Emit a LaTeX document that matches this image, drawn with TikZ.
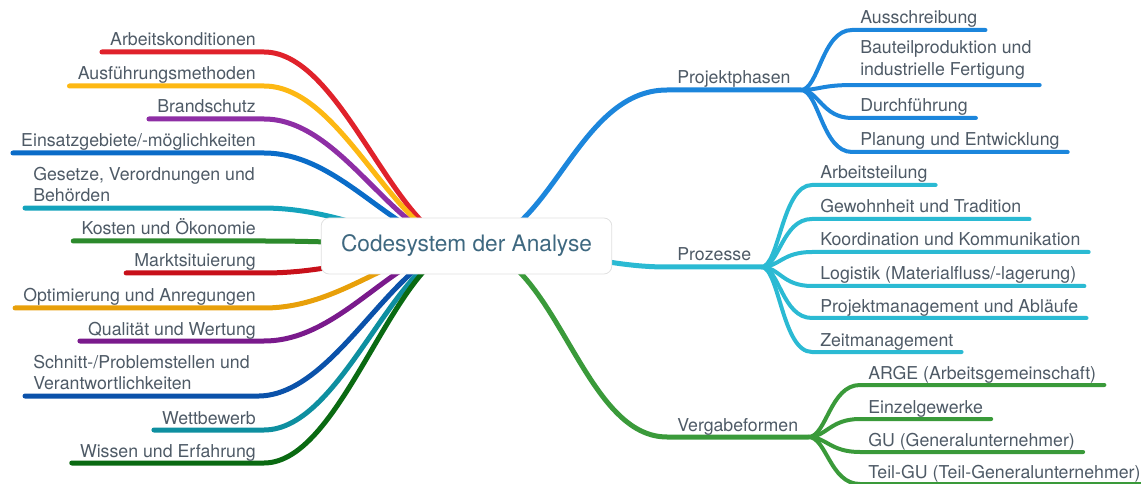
\documentclass[tikz,border=0pt]{standalone}
\usepackage{fontspec}
\setmainfont{TeX Gyre Heros}
\usepackage{xcolor}
\usetikzlibrary{positioning, calc, backgrounds}

\definecolor{txtgray}{RGB}{78,90,102}
\definecolor{roottxt}{RGB}{62,104,128}
\definecolor{cRed}{RGB}{224,34,43}
\definecolor{cYellow}{RGB}{253,184,19}
\definecolor{cPurple}{RGB}{142,46,165}
\definecolor{cBlue}{RGB}{10,108,200}
\definecolor{cTeal}{RGB}{20,163,188}
\definecolor{cGreen}{RGB}{44,138,44}
\definecolor{cRedB}{RGB}{200,16,26}
\definecolor{cOrange}{RGB}{232,160,10}
\definecolor{cPurpleB}{RGB}{122,26,140}
\definecolor{cBlueB}{RGB}{11,82,170}
\definecolor{cTealB}{RGB}{14,143,160}
\definecolor{cGreenB}{RGB}{10,106,18}
\definecolor{cPhase}{RGB}{28,134,220}
\definecolor{cProc}{RGB}{43,186,211}
\definecolor{cAward}{RGB}{58,154,58}

\newcommand{\lblfont}{\fontsize{13.3}{16.1}\selectfont}
\newcommand{\rootfont}{\fontsize{17}{20}\selectfont}

\begin{document}
\begin{tikzpicture}[
  x=0.75pt, y=-0.75pt,
  every node/.style={font=\lblfont, text=txtgray},
  lbl/.style={inner xsep=6pt, inner ysep=0pt, text depth=4.3pt},
  twoline/.style={align=left, inner xsep=6pt, inner ysep=0pt},
  rootbox/.style={draw=black!12, line width=0.6pt, fill=white, rounded corners=6pt,
    minimum width=218pt, minimum height=42pt, font=\rootfont, text=roottxt},
  branch/.style={line width=3.75pt, line cap=round},
  twig/.style={line width=3pt, line cap=round}
]
\useasboundingbox (0,0) rectangle (1141,484);

% ---------- Root ----------
\node[rootbox] (root) at (466.5,246) {Codesystem der Analyse};

% ---------- Left labels ----------
\node[lbl, anchor=south east] (arbeit) at (264,52) {Arbeitskonditionen};
\node[lbl, anchor=south east] (ausf) at (264,86) {Ausführungsmethoden};
\node[lbl, anchor=south east] (brand) at (264,119) {Brandschutz};
\node[lbl, anchor=south east] (einsatz) at (264,153) {Einsatzgebiete/-möglichkeiten};
\node[twoline, anchor=south west] (gesetze) at (25,202.3) {Gesetze, Verordnungen und\\Behörden};
\node[lbl, anchor=south east] (kosten) at (264,241) {Kosten und Ökonomie};
\node[lbl, anchor=south east] (markt) at (264,273) {Marktsituierung};
\node[lbl, anchor=south east] (optim) at (264,308) {Optimierung und Anregungen};
\node[lbl, anchor=south east] (quali) at (264,341) {Qualität und Wertung};
\node[twoline, anchor=south west] (schnitt) at (25,390.3) {Schnitt-/Problemstellen und\\Verantwortlichkeiten};
\node[lbl, anchor=south east] (wettb) at (264,430) {Wettbewerb};
\node[lbl, anchor=south east] (wissen) at (264,463) {Wissen und Erfahrung};

% ---------- Right: main branches ----------
\node[lbl, anchor=south west, inner xsep=7.5pt] (phasen) at (667,90) {Projektphasen};
\node[lbl, anchor=south west, inner xsep=7.5pt] (prozesse) at (667,267) {Prozesse};
\node[lbl, anchor=south west, inner xsep=7.5pt] (vergabe) at (667,437) {Vergabeformen};

% Projektphasen
\node[lbl, anchor=south west] (aus) at (852,30) {Ausschreibung};
\node[twoline, anchor=south west] (bau) at (852,79.3) {Bauteilproduktion und\\industrielle Fertigung};
\node[lbl, anchor=south west] (durch) at (852,118) {Durchführung};
\node[lbl, anchor=south west] (plan) at (852,152) {Planung und Entwicklung};

% Prozesse
\node[lbl, anchor=south west] (teil) at (812,185) {Arbeitsteilung};
\node[lbl, anchor=south west] (gewohn) at (812,219) {Gewohnheit und Tradition};
\node[lbl, anchor=south west] (koord) at (812,252) {Koordination und Kommunikation};
\node[lbl, anchor=south west] (logist) at (812,286) {Logistik (Materialfluss/-lagerung)};
\node[lbl, anchor=south west] (projm) at (812,318) {Projektmanagement und Abläufe};
\node[lbl, anchor=south west] (zeit) at (812,352) {Zeitmanagement};

% Vergabeformen
\node[lbl, anchor=south west] (arge) at (860,385) {ARGE (Arbeitsgemeinschaft)};
\node[lbl, anchor=south west] (einzel) at (860,419) {Einzelgewerke};
\node[lbl, anchor=south west] (gu) at (860,452) {GU (Generalunternehmer)};
\node[lbl, anchor=south west] (teilgu) at (860,484) {Teil-GU (Teil-Generalunternehmer)};

% ---------- Lines (behind) ----------
\begin{scope}[on background layer]
% left side
\draw[branch, cRed] (arbeit.south west) -- (arbeit.south east) .. controls +(80,0) and +(-70,0) .. (root.center);
\draw[branch, cYellow] (ausf.south west) -- (ausf.south east) .. controls +(80,0) and +(-70,0) .. (root.center);
\draw[branch, cPurple] (brand.south west) -- (brand.south east) .. controls +(80,0) and +(-70,0) .. (root.center);
\draw[branch, cBlue] (einsatz.south west) -- (einsatz.south east) .. controls +(80,0) and +(-70,0) .. (root.center);
\draw[branch, cTeal] ([yshift=-4.3pt]gesetze.south west) -- ([yshift=-4.3pt]gesetze.south east) .. controls +(80,0) and +(-70,0) .. (root.center);
\draw[branch, cGreen] (kosten.south west) -- (kosten.south east) .. controls +(80,0) and +(-70,0) .. (root.center);
\draw[branch, cRedB] (markt.south west) -- (markt.south east) .. controls +(80,0) and +(-70,0) .. (root.center);
\draw[branch, cOrange] (optim.south west) -- (optim.south east) .. controls +(80,0) and +(-70,0) .. (root.center);
\draw[branch, cPurpleB] (quali.south west) -- (quali.south east) .. controls +(80,0) and +(-70,0) .. (root.center);
\draw[branch, cBlueB] ([yshift=-4.3pt]schnitt.south west) -- ([yshift=-4.3pt]schnitt.south east) .. controls +(80,0) and +(-70,0) .. (root.center);
\draw[branch, cTealB] (wettb.south west) -- (wettb.south east) .. controls +(80,0) and +(-70,0) .. (root.center);
\draw[branch, cGreenB] (wissen.south west) -- (wissen.south east) .. controls +(80,0) and +(-70,0) .. (root.center);

% right side
\draw[branch, cPhase] (root.center) .. controls +(84,0) and +(-92,0) .. (phasen.south west) -- (phasen.south east);
\draw[branch, cProc] (root.center) .. controls +(94,0) and +(-67,0) .. (prozesse.south west) -- (prozesse.south east);
\draw[branch, cAward] (root.center) .. controls +(89,0) and +(-87,0) .. (vergabe.south west) -- (vergabe.south east);

\draw[twig, cPhase] (phasen.south east) .. controls +(18,0) and +(-30,0) .. (aus.south west) -- (aus.south east);
\draw[twig, cPhase] (phasen.south east) .. controls +(18,0) and +(-30,0) .. ([yshift=-4.3pt]bau.south west) -- ([yshift=-4.3pt]bau.south east);
\draw[twig, cPhase] (phasen.south east) .. controls +(18,0) and +(-30,0) .. (durch.south west) -- (durch.south east);
\draw[twig, cPhase] (phasen.south east) .. controls +(18,0) and +(-30,0) .. (plan.south west) -- (plan.south east);

\draw[twig, cProc] (prozesse.south east) .. controls +(18,0) and +(-30,0) .. (teil.south west) -- (teil.south east);
\draw[twig, cProc] (prozesse.south east) .. controls +(18,0) and +(-30,0) .. (gewohn.south west) -- (gewohn.south east);
\draw[twig, cProc] (prozesse.south east) .. controls +(18,0) and +(-30,0) .. (koord.south west) -- (koord.south east);
\draw[twig, cProc] (prozesse.south east) .. controls +(18,0) and +(-30,0) .. (logist.south west) -- (logist.south east);
\draw[twig, cProc] (prozesse.south east) .. controls +(18,0) and +(-30,0) .. (projm.south west) -- (projm.south east);
\draw[twig, cProc] (prozesse.south east) .. controls +(18,0) and +(-30,0) .. (zeit.south west) -- (zeit.south east);

\draw[twig, cAward] (vergabe.south east) .. controls +(18,0) and +(-30,0) .. (arge.south west) -- (arge.south east);
\draw[twig, cAward] (vergabe.south east) .. controls +(18,0) and +(-30,0) .. (einzel.south west) -- (einzel.south east);
\draw[twig, cAward] (vergabe.south east) .. controls +(18,0) and +(-30,0) .. (gu.south west) -- (gu.south east);
\draw[twig, cAward] (vergabe.south east) .. controls +(18,0) and +(-30,0) .. (teilgu.south west) -- (teilgu.south east);
\end{scope}

\end{tikzpicture}
\end{document}
